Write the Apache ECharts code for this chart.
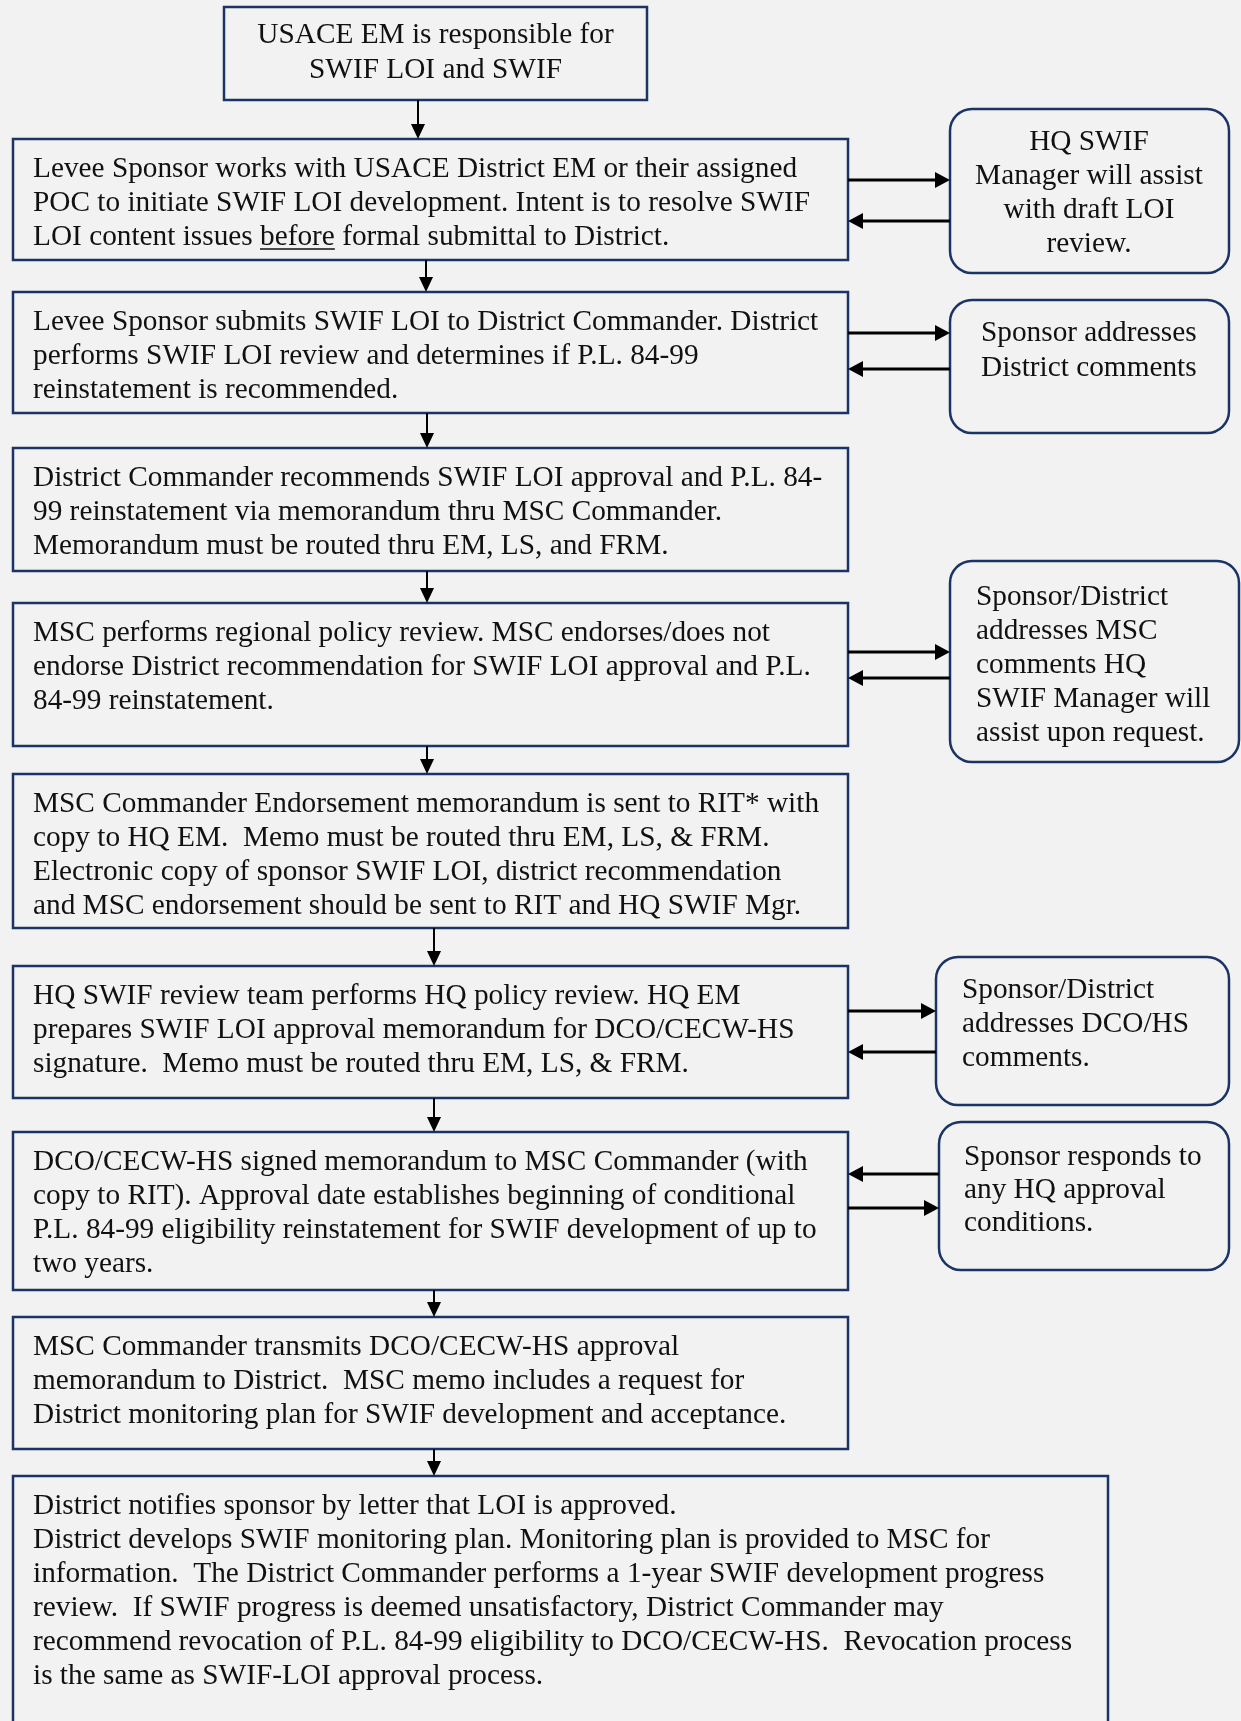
<!DOCTYPE html>
<html>
<head>
<meta charset="utf-8">
<script src="https://cdn.jsdelivr.net/npm/echarts@6/dist/echarts.min.js"></script>
<style>
html,body{margin:0;padding:0;background:#f2f2f2;}
#chart{width:1241px;height:1721px;}
</style>
</head>
<body>
<div id="chart"></div>
<script>
// ---------- content ----------
const mainSteps = [
  "USACE EM is responsible for\nSWIF LOI and SWIF",
  "Levee Sponsor works with USACE District EM or their assigned\nPOC to initiate SWIF LOI development. Intent is to resolve SWIF\nLOI content issues before formal submittal to District.",
  "Levee Sponsor submits SWIF LOI to District Commander. District\nperforms SWIF LOI review and determines if P.L. 84-99\nreinstatement is recommended.",
  "District Commander recommends SWIF LOI approval and P.L. 84-\n99 reinstatement via memorandum thru MSC Commander.\nMemorandum must be routed thru EM, LS, and FRM.",
  "MSC performs regional policy review. MSC endorses/does not\nendorse District recommendation for SWIF LOI approval and P.L.\n84-99 reinstatement.",
  "MSC Commander Endorsement memorandum is sent to RIT* with\ncopy to HQ EM.  Memo must be routed thru EM, LS, & FRM.\nElectronic copy of sponsor SWIF LOI, district recommendation\nand MSC endorsement should be sent to RIT and HQ SWIF Mgr.",
  "HQ SWIF review team performs HQ policy review. HQ EM\nprepares SWIF LOI approval memorandum for DCO/CECW-HS\nsignature.  Memo must be routed thru EM, LS, & FRM.",
  "DCO/CECW-HS signed memorandum to MSC Commander (with\ncopy to RIT). Approval date establishes beginning of conditional\nP.L. 84-99 eligibility reinstatement for SWIF development of up to\ntwo years.",
  "MSC Commander transmits DCO/CECW-HS approval\nmemorandum to District.  MSC memo includes a request for\nDistrict monitoring plan for SWIF development and acceptance.",
  "District notifies sponsor by letter that LOI is approved.\nDistrict develops SWIF monitoring plan. Monitoring plan is provided to MSC for\ninformation.  The District Commander performs a 1-year SWIF development progress\nreview.  If SWIF progress is deemed unsatisfactory, District Commander may\nrecommend revocation of P.L. 84-99 eligibility to DCO/CECW-HS.  Revocation process\nis the same as SWIF-LOI approval process."
];
const sideNotes = [
  "HQ SWIF\nManager will assist\nwith draft LOI\nreview.",
  "Sponsor addresses\nDistrict comments",
  "Sponsor/District\naddresses MSC\ncomments HQ\nSWIF Manager will\nassist upon request.",
  "Sponsor/District\naddresses DCO/HS\ncomments.",
  "Sponsor responds to\nany HQ approval\nconditions."
];
// underlined word: [step, line, word]
const underlined = [[1, 2, "before"]];
// vertical flow: step -> next step
const flowLinks = [[0,1],[1,2],[2,3],[3,4],[4,5],[5,6],[6,7],[7,8],[8,9]];
// side exchanges: [step, note, direction] ("out" = step -> note, "in" = note -> step)
const sideLinks = [
  [1,0,"out"],[1,0,"in"],
  [2,1,"out"],[2,1,"in"],
  [4,2,"out"],[4,2,"in"],
  [6,3,"out"],[6,3,"in"],
  [7,4,"in"],[7,4,"out"]
];

// ---------- layout (pixel units of the hidden axes) ----------
const mainBoxLayout = [
  [224,7,647,100],[13,139,848,260],[13,292,848,413],[13,448,848,571],
  [13,603,848,746],[13,774,848,928],[13,966,848,1098],[13,1132,848,1290],
  [13,1317,848,1449],[13,1476,1108,1760]
];
const noteBoxLayout = [
  [950,109,1229,273],[950,300,1229,433],[950,561,1239,762],
  [936,957,1229,1105],[939,1122,1229,1270]
];
// text: [x, firstLineY, lineHeight, align]
const noteTextLayout = [
  [1089,142,34,'center'],[981,333,35,'left'],[976,597,34,'left'],
  [962,990,34,'left'],[964,1157,33,'left']
];
const flowX = [418,426,427,427,427,434,434,434,434];
const sideY = [180,221,333,369,652,678,1011,1052,1174,1208];

const FONT_SIZE = 29.3;
const FONT = FONT_SIZE + 'px "Liberation Serif", "Times New Roman", serif';
const BORDER = '#1b3466';
const TXT = '#111111';

const measureCtx = document.createElement('canvas').getContext('2d');
measureCtx.font = FONT;

function textLines(lines, x, y0, lh, align, api) {
  return lines.map((ln, k) => {
    const p = api.coord([x, y0 + k * lh]);
    return {type:'text', style:{text: ln, x: p[0], y: p[1], font: FONT, fill: TXT,
      textAlign: align, textVerticalAlign: 'middle', align: align, verticalAlign: 'middle'}};
  });
}

function renderMain(params, api) {
  const i = api.value(0);
  const b = mainBoxLayout[i];
  const p0 = api.coord([b[0], b[1]]), p1 = api.coord([b[2], b[3]]);
  const children = [{type:'rect', shape:{x:p0[0], y:p0[1], width:p1[0]-p0[0], height:p1[1]-p0[1]},
    style:{fill:'#f2f2f2', stroke:BORDER, lineWidth:2.5}}];
  const lines = mainSteps[i].split('\n');
  if (i === 0) {
    children.push(...textLines(lines, (b[0]+b[2])/2, 35, 35, 'center', api));
  } else {
    children.push(...textLines(lines, 33, b[1] + 30, 34, 'left', api));
    underlined.filter(u => u[0] === i).forEach(u => {
      const ln = lines[u[1]];
      const idx = ln.indexOf(u[2]);
      const xs = 33 + measureCtx.measureText(ln.slice(0, idx)).width;
      const xe = xs + measureCtx.measureText(u[2]).width;
      const y = b[1] + 30 + u[1] * 34 + 12;
      const a = api.coord([xs, y]), c = api.coord([xe, y]);
      children.push({type:'line', shape:{x1:a[0], y1:a[1], x2:c[0], y2:c[1]}, style:{stroke:TXT, lineWidth:1.5}});
    });
  }
  return {type:'group', children};
}

function renderNote(params, api) {
  const i = api.value(0);
  const b = noteBoxLayout[i];
  const t = noteTextLayout[i];
  const p0 = api.coord([b[0], b[1]]), p1 = api.coord([b[2], b[3]]);
  const children = [{type:'rect', shape:{x:p0[0], y:p0[1], width:p1[0]-p0[0], height:p1[1]-p0[1], r:22},
    style:{fill:'#f2f2f2', stroke:BORDER, lineWidth:2.5}}];
  children.push(...textLines(sideNotes[i].split('\n'), t[0], t[1], t[2], t[3], api));
  return {type:'group', children};
}

function arrow(a, c, lw, len, hw) {
  const dx = c[0]-a[0], dy = c[1]-a[1];
  const L = Math.sqrt(dx*dx+dy*dy), ux = dx/L, uy = dy/L;
  const bx = c[0]-ux*len, by = c[1]-uy*len;
  return [
    {type:'line', shape:{x1:a[0], y1:a[1], x2:bx+ux*1, y2:by+uy*1}, style:{stroke:'#000', lineWidth:lw}},
    {type:'polygon', shape:{points:[[c[0],c[1]],[bx-uy*hw, by+ux*hw],[bx+uy*hw, by-ux*hw]]}, style:{fill:'#000'}}
  ];
}

function renderFlow(params, api) {
  const k = api.value(0);
  const l = flowLinks[k];
  const x = flowX[k];
  const a = api.coord([x, mainBoxLayout[l[0]][3]]);
  const c = api.coord([x, mainBoxLayout[l[1]][1]]);
  return {type:'group', children: arrow(a, c, 2, 15, 7)};
}

function renderSide(params, api) {
  const k = api.value(0);
  const s = sideLinks[k];
  const y = sideY[k];
  const xm = mainBoxLayout[s[0]][2], xn = noteBoxLayout[s[1]][0];
  const from = s[2] === 'out' ? xm : xn, to = s[2] === 'out' ? xn : xm;
  const a = api.coord([from, y]), c = api.coord([to, y]);
  return {type:'group', children: arrow(a, c, 3, 15, 8)};
}

const chart = echarts.init(document.getElementById('chart'), null, {renderer:'canvas'});
chart.setOption({
  backgroundColor:'#f2f2f2',
  animation:false,
  grid:{left:0, right:0, top:0, bottom:0},
  xAxis:{type:'value', min:0, max:1241, show:false},
  yAxis:{type:'value', min:0, max:1721, inverse:true, show:false},
  series:[
    {type:'custom', name:'steps', renderItem:renderMain, data:mainSteps.map((_, i) => [i]), clip:true},
    {type:'custom', name:'notes', renderItem:renderNote, data:sideNotes.map((_, i) => [i]), clip:false},
    {type:'custom', name:'flow', renderItem:renderFlow, data:flowLinks.map((_, i) => [i])},
    {type:'custom', name:'exchanges', renderItem:renderSide, data:sideLinks.map((_, i) => [i])}
  ]
});
</script>
</body>
</html>
